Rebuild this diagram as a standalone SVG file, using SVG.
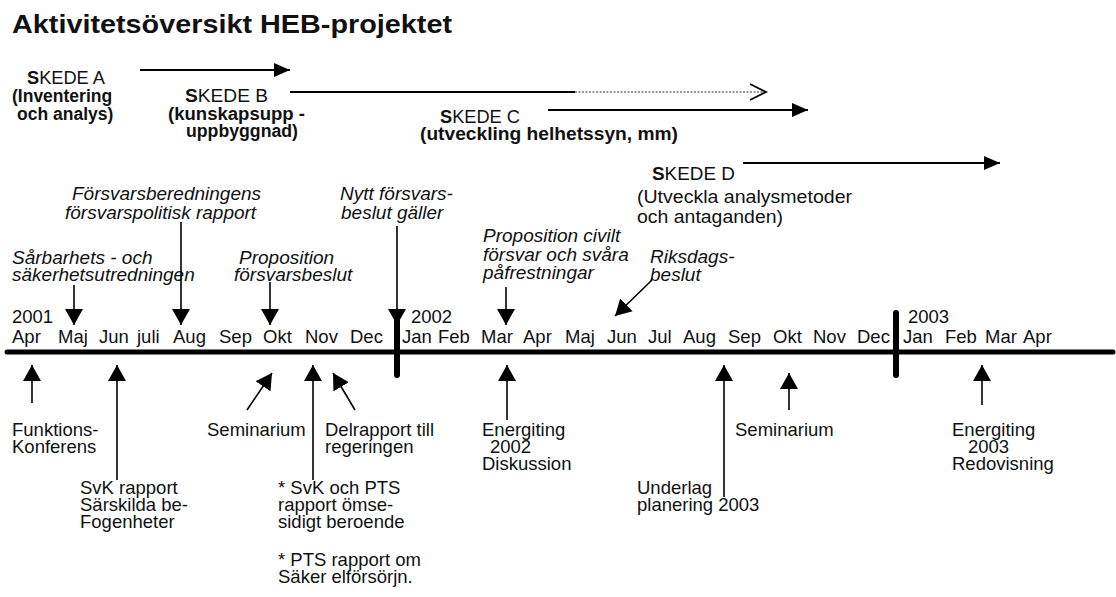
<svg xmlns="http://www.w3.org/2000/svg" width="1116" height="597" viewBox="0 0 1116 597">
<style>
text{font-family:"Liberation Sans",Arial,Helvetica,sans-serif;fill:#111}
.n{font-size:18.5px}
.i{font-size:19px;font-style:italic}
.m{font-size:18.5px}
.sk{font-size:17.5px}
.b{font-weight:bold}
.ln{stroke:#000;stroke-width:1.6;fill:none}
.sa{stroke:#000;stroke-width:1.8;fill:none}
.bar{stroke:#000;stroke-width:6;stroke-linecap:round}
</style>
<defs>
<marker id="ah" markerUnits="userSpaceOnUse" markerWidth="18" markerHeight="20" refX="16" refY="9" orient="auto"><path d="M0,0 L16,9 L0,18 Z" fill="#000"/></marker>
<marker id="sh" markerUnits="userSpaceOnUse" markerWidth="17" markerHeight="16" refX="16" refY="7" orient="auto"><path d="M0,0 L16,7 L0,14 Z" fill="#000"/></marker>
</defs>
<rect width="1116" height="597" fill="#fff"/>
<text id="title" x="12" y="33" class="b" font-size="25" textLength="440" lengthAdjust="spacingAndGlyphs">Aktivitetsöversikt HEB-projektet</text>

<g id="skede-a" class="sk">
<text x="27" y="84" textLength="78" lengthAdjust="spacingAndGlyphs"><tspan class="b">S</tspan>KEDE A</text>
<text x="12" y="102" class="b">(Inventering</text>
<text x="17" y="120" class="b">och analys)</text>
</g>
<g id="skede-b" class="sk">
<text x="185" y="102" textLength="83" lengthAdjust="spacingAndGlyphs"><tspan class="b">S</tspan>KEDE B</text>
<text x="168" y="120" class="b" textLength="137" lengthAdjust="spacingAndGlyphs">(kunskapsupp -</text>
<text x="186" y="137" class="b" textLength="112" lengthAdjust="spacingAndGlyphs">uppbyggnad)</text>
</g>
<g id="skede-c" class="sk">
<text x="440" y="123" textLength="80" lengthAdjust="spacingAndGlyphs"><tspan class="b">S</tspan>KEDE C</text>
<text x="420" y="140" class="b" textLength="258" lengthAdjust="spacingAndGlyphs">(utveckling helhetssyn, mm)</text>
</g>
<g id="skede-d" class="sk">
<text x="652" y="180" textLength="83" lengthAdjust="spacingAndGlyphs"><tspan class="b">S</tspan>KEDE D</text>
<text x="637" y="203" textLength="215" lengthAdjust="spacingAndGlyphs">(Utveckla analysmetoder</text>
<text x="637" y="223" textLength="146" lengthAdjust="spacingAndGlyphs">och antaganden)</text>
</g>

<g id="ann-forsvarsberedning" class="i">
<text x="72" y="200">Försvarsberedningens</text>
<text x="65" y="219">försvarspolitisk rapport</text>
</g>
<g id="ann-sarbarhet" class="i">
<text x="12" y="264">Sårbarhets - och</text>
<text x="12" y="281">säkerhetsutredningen</text>
</g>
<g id="ann-proposition" class="i">
<text x="239" y="264">Proposition</text>
<text x="234" y="281">försvarsbeslut</text>
</g>
<g id="ann-nytt" class="i">
<text x="340" y="200">Nytt försvars-</text>
<text x="341" y="219">beslut gäller</text>
</g>
<g id="ann-prop-civilt" class="i">
<text x="483" y="242">Proposition civilt</text>
<text x="483" y="261">försvar och svåra</text>
<text x="483" y="279">påfrestningar</text>
</g>
<g id="ann-riksdag" class="i">
<text x="650" y="263">Riksdags-</text>
<text x="650" y="281">beslut</text>
</g>

<g id="years" class="m">
<text x="12" y="323">2001</text>
<text x="411" y="323">2002</text>
<text x="908" y="323">2003</text>
</g>
<g id="months" class="m">
<text x="12" y="343">Apr</text>
<text x="58" y="343">Maj</text>
<text x="99" y="343">Jun</text>
<text x="137" y="343">juli</text>
<text x="173" y="343">Aug</text>
<text x="219" y="343">Sep</text>
<text x="263" y="343">Okt</text>
<text x="305" y="343">Nov</text>
<text x="350" y="343">Dec</text>
<text x="402" y="343">Jan</text>
<text x="438" y="343">Feb</text>
<text x="481" y="343">Mar</text>
<text x="523" y="343">Apr</text>
<text x="565" y="343">Maj</text>
<text x="607" y="343">Jun</text>
<text x="648" y="343">Jul</text>
<text x="683" y="343">Aug</text>
<text x="728" y="343">Sep</text>
<text x="773" y="343">Okt</text>
<text x="813" y="343">Nov</text>
<text x="857" y="343">Dec</text>
<text x="903" y="343">Jan</text>
<text x="945" y="343">Feb</text>
<text x="985" y="343">Mar</text>
<text x="1023" y="343">Apr</text>
</g>

<g id="timeline">
<line x1="7" y1="352" x2="1113" y2="352" stroke="#000" stroke-width="5" stroke-linecap="round"/>
<line x1="397" y1="313" x2="397" y2="375" class="bar"/>
<line x1="896" y1="313" x2="896" y2="375" class="bar"/>
</g>

<g id="ev-funktion" class="n">
<text x="12" y="436">Funktions-</text>
<text x="12" y="453">Konferens</text>
</g>
<g id="ev-svk" class="n">
<text x="80" y="494">SvK rapport</text>
<text x="80" y="511">Särskilda be-</text>
<text x="80" y="528">Fogenheter</text>
</g>
<g id="ev-seminarium1" class="n">
<text x="207" y="436">Seminarium</text>
</g>
<g id="ev-delrapport" class="n">
<text x="325" y="436">Delrapport till</text>
<text x="325" y="453">regeringen</text>
</g>
<g id="ev-svk-pts" class="n">
<text x="278" y="494">* SvK och PTS</text>
<text x="278" y="511">rapport ömse-</text>
<text x="278" y="528">sidigt beroende</text>
<text x="278" y="566">* PTS rapport om</text>
<text x="278" y="583">Säker elförsörjn.</text>
</g>
<g id="ev-energiting2002" class="n">
<text x="482" y="436">Energiting</text>
<text x="490" y="453">2002</text>
<text x="482" y="470">Diskussion</text>
</g>
<g id="ev-underlag" class="n">
<text x="637" y="494">Underlag</text>
<text x="637" y="511">planering 2003</text>
</g>
<g id="ev-seminarium2" class="n">
<text x="735" y="436">Seminarium</text>
</g>
<g id="ev-energiting2003" class="n">
<text x="952" y="436">Energiting</text>
<text x="968" y="453">2003</text>
<text x="952" y="470">Redovisning</text>
</g>

<g id="connectors">
<line x1="140" y1="70" x2="290" y2="70" class="sa" marker-end="url(#sh)"/>
<line x1="290" y1="92" x2="575" y2="92" class="sa"/>
<line x1="575" y1="92" x2="764" y2="92" stroke="#333" stroke-width="1.2" stroke-dasharray="2 1.5"/>
<polyline points="750,84 766,92 750,100" class="sa"/>
<line x1="548" y1="110" x2="808" y2="110" class="sa" marker-end="url(#sh)"/>
<line x1="743" y1="163" x2="1000" y2="163" class="sa" marker-end="url(#sh)"/>

<line x1="74" y1="285" x2="74" y2="325" class="ln" marker-end="url(#ah)"/>
<line x1="181" y1="222" x2="181" y2="325" class="ln" marker-end="url(#ah)"/>
<line x1="270" y1="282" x2="270" y2="325" class="ln" marker-end="url(#ah)"/>
<line x1="397" y1="226" x2="397" y2="325" class="ln" marker-end="url(#ah)"/>
<line x1="506" y1="287" x2="506" y2="325" class="ln" marker-end="url(#ah)"/>
<line x1="652" y1="280" x2="615" y2="316" class="ln" marker-end="url(#ah)"/>

<line x1="32" y1="403" x2="32" y2="365" class="ln" marker-end="url(#ah)"/>
<line x1="117" y1="480" x2="117" y2="365" class="ln" marker-end="url(#ah)"/>
<line x1="247" y1="410" x2="272" y2="373" class="ln" marker-end="url(#ah)"/>
<line x1="313" y1="480" x2="313" y2="365" class="ln" marker-end="url(#ah)"/>
<line x1="355" y1="410" x2="333" y2="373" class="ln" marker-end="url(#ah)"/>
<line x1="507" y1="420" x2="507" y2="365" class="ln" marker-end="url(#ah)"/>
<line x1="724" y1="497" x2="724" y2="365" class="ln" marker-end="url(#ah)"/>
<line x1="789" y1="410" x2="789" y2="373" class="ln" marker-end="url(#ah)"/>
<line x1="982" y1="405" x2="982" y2="365" class="ln" marker-end="url(#ah)"/>
</g>
</svg>
